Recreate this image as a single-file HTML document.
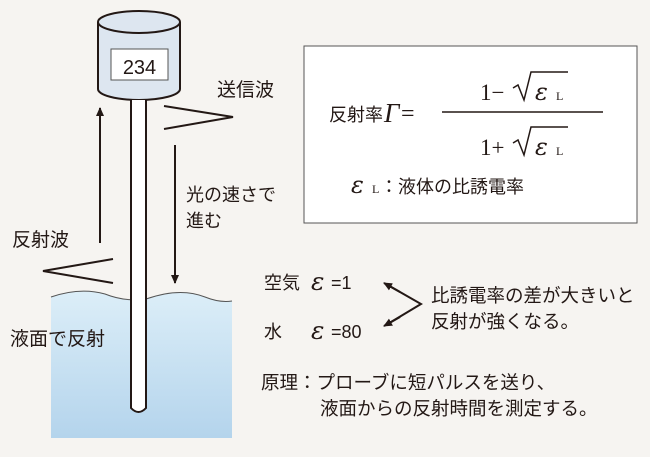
<!DOCTYPE html>
<html><head><meta charset="utf-8"><style>
body{margin:0;background:#f6f4f1;}
svg{display:block}
text{font-family:"Liberation Sans","Noto Sans CJK JP",sans-serif;fill:#231815}
.s{font-family:"Liberation Serif",serif}
.e{font-family:"DejaVu Serif",serif;font-style:italic}
</style></head><body>
<svg width="650" height="457" viewBox="0 0 650 457">
<defs>
<linearGradient id="w" x1="0" y1="0" x2="0" y2="1"><stop offset="0" stop-color="#dceef8"/><stop offset="1" stop-color="#b4d4ec"/></linearGradient>
<marker id="a" markerWidth="10" markerHeight="10" refX="8" refY="5" orient="auto" markerUnits="userSpaceOnUse"><path d="M0,1 L9,5 L0,9 Z" fill="#231815"/></marker>
</defs>
<path d="M51,297 Q80,287 105,294 Q125,302 146,299 Q180,287 205,297 Q220,303 232,301 L232,438 L51,438 Z" fill="url(#w)"/>
<path d="M51,297 Q80,287 105,294 Q125,302 146,299 Q180,287 205,297 Q220,303 232,301" fill="none" stroke="#555" stroke-width="1"/>
<path d="M98,22 L98,89 A41,11 0 0 0 180,89 L180,22" fill="#dde6f0" stroke="#231815" stroke-width="2"/>
<ellipse cx="139" cy="22" rx="41" ry="11" fill="#dde6f0" stroke="#231815" stroke-width="2"/>
<rect x="111" y="49" width="57" height="31" fill="#fff" stroke="#555" stroke-width="1"/>
<text x="139.5" y="74" font-size="20" text-anchor="middle">234</text>
<path d="M131,100 L131,408 Q138.5,416 146,408 L146,100" fill="#fff" stroke="#231815" stroke-width="2"/>
<line x1="100" y1="243" x2="100" y2="108" stroke="#231815" stroke-width="2" marker-end="url(#a)"/>
<line x1="175" y1="145" x2="175" y2="283" stroke="#231815" stroke-width="2" marker-end="url(#a)"/>
<polyline points="164,106 233,117 164,129" fill="none" stroke="#231815" stroke-width="2"/>
<polyline points="113,259 43,271 113,283" fill="none" stroke="#231815" stroke-width="2"/>
<text x="217" y="96" font-size="19">送信波</text>
<text x="186" y="201" font-size="18">光の速さで</text>
<text x="186" y="227" font-size="18">進む</text>
<text x="12" y="246" font-size="19">反射波</text>
<text x="10" y="345" font-size="19">液面で反射</text>
<rect x="304" y="46" width="333" height="177" fill="#fff" stroke="#555" stroke-width="1"/>
<text x="329" y="121" font-size="18">反射率</text>
<text x="384" y="122" font-size="27" font-style="italic" class="s">Γ</text>
<text x="401" y="121" font-size="24" class="s">=</text>
<line x1="442" y1="112" x2="603" y2="112" stroke="#231815" stroke-width="1.5"/>
<text x="480" y="100" font-size="23" class="s">1−</text>
<path d="M513,88 L518,85 L524,100 L531,72 L568,72" fill="none" stroke="#231815" stroke-width="1.5"/>
<text x="535" y="100" font-size="24" class="e">ε</text>
<text x="556" y="100" font-size="12" class="s">L</text>
<text x="480" y="155" font-size="23" class="s">1+</text>
<path d="M513,143 L518,140 L524,155 L531,127 L568,127" fill="none" stroke="#231815" stroke-width="1.5"/>
<text x="535" y="155" font-size="24" class="e">ε</text>
<text x="556" y="155" font-size="12" class="s">L</text>
<text x="351" y="193" font-size="24" class="e">ε</text>
<text x="372" y="193" font-size="12" class="s">L</text>
<text x="380" y="193" font-size="18">：液体の比誘電率</text>
<text x="264" y="289" font-size="18">空気</text>
<text x="311" y="290" font-size="25" class="e">ε</text>
<text x="331" y="289" font-size="18">=1</text>
<text x="264" y="338" font-size="18">水</text>
<text x="311" y="339" font-size="25" class="e">ε</text>
<text x="331" y="338" font-size="18">=80</text>
<polyline points="386,284 421,304 386,325" fill="none" stroke="#231815" stroke-width="2"/>
<line x1="400" y1="292" x2="384" y2="283" stroke="#231815" stroke-width="2" marker-end="url(#a)"/>
<line x1="400" y1="317" x2="384" y2="326" stroke="#231815" stroke-width="2" marker-end="url(#a)"/>
<text x="431" y="302" font-size="18.5">比誘電率の差が大きいと</text>
<text x="431" y="328" font-size="18.5">反射が強くなる。</text>
<text x="261" y="389" font-size="18.5">原理：プローブに短パルスを送り、</text>
<text x="320" y="415" font-size="18.5">液面からの反射時間を測定する。</text>
</svg>
</body></html>
